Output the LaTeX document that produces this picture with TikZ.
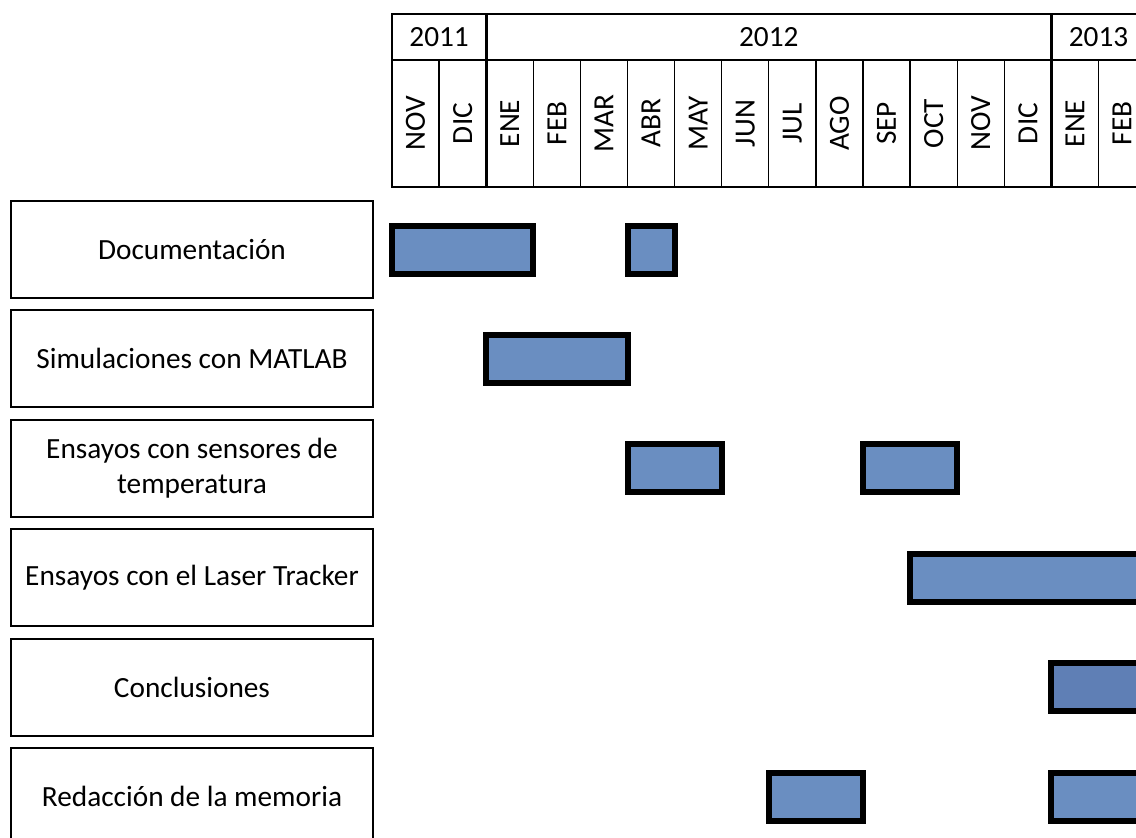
\documentclass[tikz,border=0pt]{standalone}
\usepackage{fontspec}
\setmainfont{Carlito}

\definecolor{barblue}{RGB}{106,142,193}
\definecolor{bardark}{RGB}{95,127,181}

\begin{document}
\begin{tikzpicture}[x=1pt, y=-1pt,
    every node/.style={
        font=\fontsize{29.3}{35}\selectfont,
        inner sep=0pt},
    task/.style={
        draw,
        line width=2pt,
        minimum width=362pt,
        minimum height=97pt,
        align=center},
    bar/.style={
        draw=black,
        line width=6pt,
        fill=barblue}]

    \useasboundingbox (0,0) rectangle (1136,838);
    \clip (0,0) rectangle (1136,838);

    % calendar header
    \draw[line width=2pt] (392,14) rectangle (1145.6,187.3);
    \draw[line width=2pt] (392,60) -- (1145.6,60);
    \foreach \i in {1,...,15}
        \draw[line width=1.3pt] (392+47.1*\i,60) -- (392+47.1*\i,187.3);
    \foreach \i in {2,14}
        \draw[line width=3pt] (392+47.1*\i,14) -- (392+47.1*\i,187.3);

    \node (y2011) at (439.1,37) {2011};
    \node (y2012) at (768.8,37) {2012};
    \node (y2013) at (1098.5,37) {2013};

    \foreach \m [count=\i from 0] in {NOV,DIC,ENE,FEB,MAR,ABR,MAY,JUN,JUL,AGO,SEP,OCT,NOV,DIC,ENE,FEB}
        \node[rotate=90] (m\i) at (392+47.1*\i+23.55,123.5) {\m};

    % tasks
    \node[task] (doc) at (192,249.5) {Documentación};
    \node[task] (sim) at (192,358.9) {Simulaciones con MATLAB};
    \node[task] (sens) at (192,468.3) {Ensayos con sensores de\\temperatura};
    \node[task] (laser) at (192,577.7) {Ensayos con el Laser Tracker};
    \node[task] (concl) at (192,687.1) {Conclusiones};
    \node[task] (redac) at (192,796.5) {Redacción de la memoria};

    % bars: row/first month/last month
    \foreach \r/\a/\b in {0/0/3, 0/5/6, 1/2/5, 2/5/7, 2/10/12, 3/11/16, 5/8/10, 5/14/16}
        \draw[bar] (392+47.1*\a,225.5+109.4*\r) rectangle (392+47.1*\b,273.5+109.4*\r);
    \draw[bar, fill=bardark] (392+47.1*14,225.5+109.4*4) rectangle (392+47.1*16,273.5+109.4*4);
\end{tikzpicture}
\end{document}
